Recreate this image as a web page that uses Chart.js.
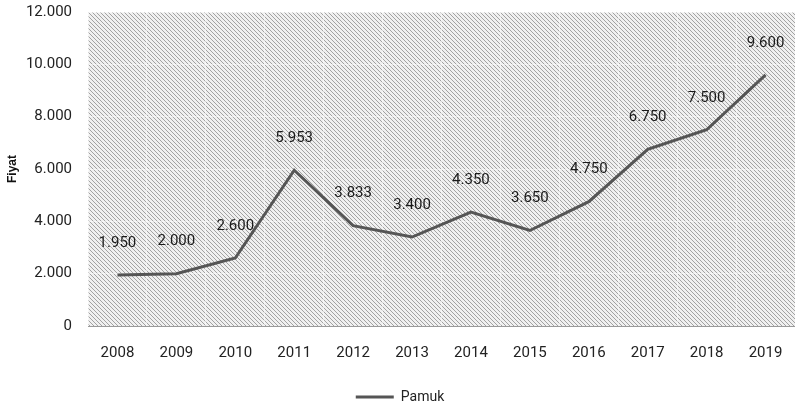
<!DOCTYPE html>
<html>
<head>
<meta charset="utf-8">
<script src="https://cdn.jsdelivr.net/npm/chart.js@4/dist/chart.umd.min.js"></script>
<style>
  html, body { margin: 0; padding: 0; background: #fff; }
  #wrap { width: 795px; height: 415px; }
</style>
</head>
<body>
<div id="wrap"><canvas id="c" width="795" height="415"></canvas></div>
<script>
const years = ['2008','2009','2010','2011','2012','2013','2014','2015','2016','2017','2018','2019'];
const pamuk = [1950, 2000, 2600, 5953, 3833, 3400, 4350, 3650, 4750, 6750, 7500, 9600];
const yTicks = [0, 2000, 4000, 6000, 8000, 10000, 12000];

const FONT = 'Roboto, "Liberation Sans", sans-serif';

// Thousands separator with a dot
function fmt(v) {
  return String(v).replace(/\B(?=(\d{3})+(?!\d))/g, '.');
}

// Diagonal hatch used as the plot-area fill
function makeHatch(ctx) {
  const t = document.createElement('canvas');
  t.width = 4; t.height = 4;
  const g = t.getContext('2d');
  g.fillStyle = '#f0f0f0';
  g.fillRect(0, 0, 4, 4);
  g.strokeStyle = '#a2a2a2';
  g.lineWidth = 1;
  g.beginPath();
  g.moveTo(-1, -1); g.lineTo(5, 5);
  g.moveTo(-1, 3); g.lineTo(1, 5);
  g.moveTo(3, -1); g.lineTo(5, 1);
  g.stroke();
  return ctx.createPattern(t, 'repeat');
}

const hatchBackground = {
  id: 'hatchBackground',
  beforeDraw(chart) {
    const { ctx, chartArea: a } = chart;
    ctx.save();
    ctx.fillStyle = makeHatch(ctx);
    ctx.fillRect(a.left, a.top, a.right - a.left, a.bottom - a.top);
    ctx.restore();
  }
};

const valueLabels = {
  id: 'valueLabels',
  afterDatasetsDraw(chart) {
    const { ctx } = chart;
    const meta = chart.getDatasetMeta(0);
    const data = chart.data.datasets[0].data;
    ctx.save();
    ctx.font = '15px ' + FONT;
    ctx.fillStyle = '#1a1a1a';
    ctx.textAlign = 'center';
    ctx.textBaseline = 'middle';
    meta.data.forEach((pt, i) => {
      ctx.fillText(fmt(data[i]), pt.x, pt.y - 32);
    });
    ctx.restore();
  }
};

// Keep axis boxes at fixed sizes so the plot area sits where intended
function fixAxis(size) {
  return function (scale) {
    if (scale.isHorizontal()) scale.height = size; else scale.width = size;
    scale.paddingTop = 0; scale.paddingBottom = 0;
    scale.paddingLeft = 0; scale.paddingRight = 0;
  };
}

new Chart(document.getElementById('c'), {
  type: 'line',
  data: {
    labels: years,
    datasets: [{
      label: 'Pamuk',
      data: pamuk,
      borderColor: '#555555',
      backgroundColor: '#555555',
      borderWidth: 3,
      pointRadius: 0,
      tension: 0
    }]
  },
  options: {
    responsive: false,
    animation: false,
    devicePixelRatio: 1,
    layout: { padding: { left: 5, right: 0, top: 12, bottom: 1 } },
    scales: {
      x: {
        offset: true,
        afterFit: fixAxis(54),
        grid: { display: true, offset: true, color: 'rgba(255,255,255,0.5)', drawTicks: false },
        border: { color: '#9a9a9a', width: 1 },
        ticks: { color: '#222', font: { family: FONT, size: 15 }, padding: 18 }
      },
      y: {
        min: 0, max: 12000,
        afterBuildTicks(scale) { scale.ticks = yTicks.map(v => ({ value: v })); },
        afterFit: fixAxis(83),
        grid: { color: 'rgba(255,255,255,0.5)', drawTicks: false },
        border: { display: false },
        ticks: {
          color: '#222', font: { family: FONT, size: 15 }, padding: 16,
          callback: v => fmt(v)
        },
        title: {
          display: true, text: 'Fiyat', color: '#111',
          font: { family: '"Liberation Sans", sans-serif', size: 12, weight: 'bold' },
          padding: { top: 0, bottom: 7 }
        }
      }
    },
    plugins: {
      legend: {
        position: 'bottom',
        labels: {
          usePointStyle: true,
          pointStyle: 'line',
          pointStyleWidth: 38,
          color: '#222',
          font: { family: FONT, size: 14 },
          padding: 10
        }
      },
      tooltip: { enabled: false }
    }
  },
  plugins: [hatchBackground, valueLabels]
});
</script>
</body>
</html>
